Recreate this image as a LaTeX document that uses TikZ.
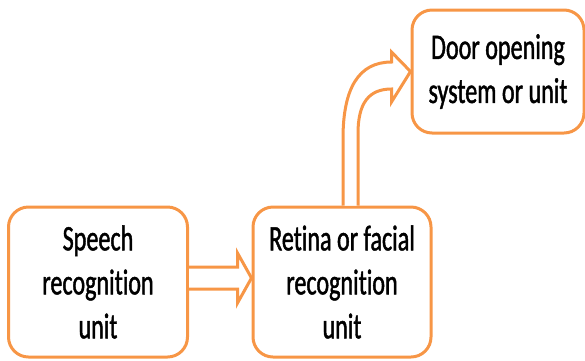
\documentclass[tikz,border=0pt]{standalone}
\definecolor{myorange}{RGB}{247, 150, 70}
\usepackage{fontspec}
\newfontfamily\boxfont[FakeStretch=0.67,FakeBold=1.2,Ligatures=NoCommon]{Carlito}
\usepackage{tikz}
\usetikzlibrary{calc}
\tikzset{every picture/.style={line width=0.75pt}}
\tikzset{
  unitbox/.style={draw=myorange, line width=3pt, rounded corners=20pt, fill=white,
    align=center, inner sep=0pt, font=\boxfont\fontsize{36}{44}\selectfont},
  blockarrow/.style={draw=myorange, line width=3pt, fill=white, line join=miter}
}
\begin{document}
\begin{tikzpicture}[x=1pt,y=1pt,yscale=-1,xscale=1]
\useasboundingbox (0,0) rectangle (585,360);

%Shape: Rounded Rectangle
\node [unitbox, minimum width=179pt, minimum height=150pt] (speech) at (98,282) {Speech\\recognition\\unit};
%Shape: Rounded Rectangle
\node [unitbox, minimum width=178pt, minimum height=150pt] (retina) at (342,282) {Retina or facial\\recognition\\unit};
%Shape: Rounded Rectangle
\node [unitbox, minimum width=172pt, minimum height=123pt] (door) at (498,71.5) {Door opening\\system or unit};

%Right Arrow
\draw [blockarrow] ($(speech.east)+(0,-15)$) -- ($(retina.west)+(-14,-15)$) -- ($(retina.west)+(-14,-29)$) -- ($(retina.west)+(0,-4)$) -- ($(retina.west)+(-14,21)$) -- ($(retina.west)+(-14,7)$) -- ($(speech.east)+(0,7)$) ;

%Curved Up Arrow
\draw [blockarrow] ($(retina.north)+(1,0)$) -- ($(retina.north)+(1,-67)$) .. controls ($(retina.north)+(1,-117)$) and ($(door.west)+(-52,-9.5)$) .. ($(door.west)+(-19,-9.5)$) -- ($(door.west)+(-19,-19.5)$) -- (door.west) -- ($(door.west)+(-19,30.5)$) -- ($(door.west)+(-19,17.5)$) .. controls ($(door.west)+(-42,17.5)$) and ($(retina.north)+(16,-102)$) .. ($(retina.north)+(16,-72)$) -- ($(retina.north)+(16,0)$) ;

\end{tikzpicture}
\end{document}
